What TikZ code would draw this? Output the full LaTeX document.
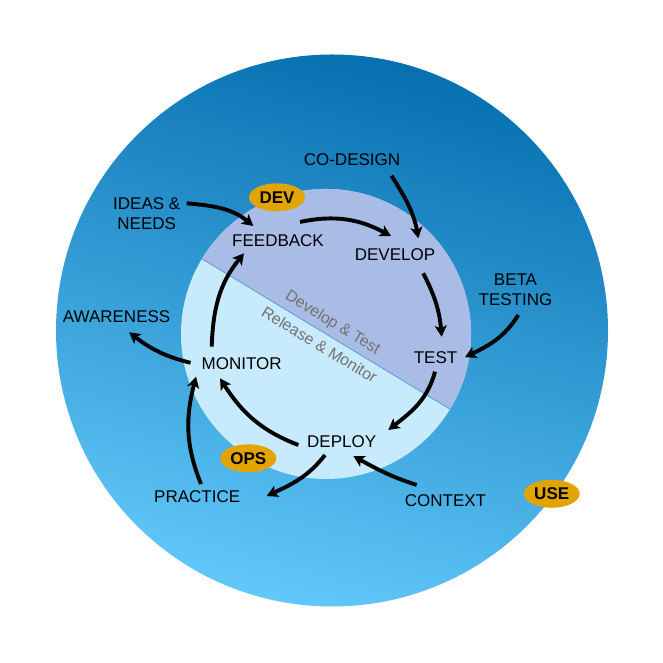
\documentclass[tikz,border=0pt]{standalone}
\usepackage{fontspec}
\setmainfont{Liberation Sans}
\usetikzlibrary{arrows.meta,shapes.geometric}
\definecolor{usedark}{HTML}{0670B0}
\definecolor{uselight}{HTML}{62C8FA}
\definecolor{devfill}{HTML}{A9BCE6}
\definecolor{opsfill}{HTML}{C8EAFD}
\definecolor{splitline}{HTML}{5B9BD5}
\definecolor{badgegold}{HTML}{E2A500}
\definecolor{zonegray}{HTML}{727272}

\tikzset{
  stage/.style={font=\fontsize{17}{20.5}\selectfont, align=center, inner sep=0pt},
  badge/.style={ellipse, fill=badgegold, minimum width=56pt, minimum height=28pt,
                inner sep=0pt, font=\fontsize{17}{20}\selectfont\bfseries},
  flow/.style={line width=3.9pt, -{Stealth[length=11pt,width=12pt,inset=2.5pt]}},
  zone/.style={text=zonegray, font=\fontsize{16}{18}\selectfont, rotate=-31.2, inner sep=0pt}
}

\begin{document}
\begin{tikzpicture}[x=1pt,y=1pt]
\useasboundingbox (0,0) rectangle (663,663);

\coordinate (outer) at (332,332.5);
\coordinate (inner) at (326,329);

\shade[top color=usedark, bottom color=uselight, shading angle=-15] (outer) circle[radius=276];
\fill[opsfill] (inner) circle[radius=145];
\fill[devfill] ([shift={(-31.2:145)}]inner) arc[start angle=-31.2, end angle=148.8, radius=145] -- cycle;
\draw[splitline, line width=0.8pt] ([shift={(-31.2:145)}]inner) -- ([shift={(148.8:145)}]inner);

\node[zone] (devtest) at ([shift={(58.8:12.5)}]inner) {Develop \& Test};
\node[zone] (relmon) at ([shift={(238.8:12.5)}]inner) {Release \& Monitor};

\node[stage] (feedback) at (278,422) {FEEDBACK};
\node[stage] (develop) at (395,408) {DEVELOP};
\node[stage] (test) at (435.5,305.8) {TEST};
\node[stage] (deploy) at (341.7,221.3) {DEPLOY};
\node[stage] (monitor) at (241.7,299.2) {MONITOR};

\node[stage] (codesign) at (352,503.6) {CO-DESIGN};
\node[stage] (ideas) at (146.7,449.3) {IDEAS \&\\NEEDS};
\node[stage] (beta) at (515.5,373.5) {BETA\\TESTING};
\node[stage] (awareness) at (116.6,346.6) {AWARENESS};
\node[stage] (practice) at (197.2,166) {PRACTICE};
\node[stage] (context) at (445.5,162.3) {CONTEXT};

\node[badge] (dev) at (277,465.7) {DEV};
\node[badge] (ops) at (248.3,204.7) {OPS};
\node[badge] (use) at (551.7,169.2) {USE};

\draw[flow] ([shift={(22,19)}]feedback.center) to[out=12,in=152] ([shift={(-4,19)}]develop.center);
\draw[flow] ([shift={(39.5,-16.3)}]codesign.center) to[out=-58,in=100] ([shift={(23.3,16.7)}]develop.center);
\draw[flow] ([shift={(28.3,-18.3)}]develop.center) to[out=-63,in=95] ([shift={(6.2,20.5)}]test.center);
\draw[flow] ([shift={(2.8,-25.5)}]beta.center) to[out=238,in=26] ([shift={(29.5,0)}]test.center);
\draw[flow] ([shift={(-0.5,-14.5)}]test.center) to[out=-105,in=38] ([shift={(46.6,11.7)}]deploy.center);
\draw[flow] ([shift={(-28.8,15.7)}]context.center) to[out=162,in=-29] ([shift={(11.6,-14.3)}]deploy.center);
\draw[flow] ([shift={(-16.7,-13.3)}]deploy.center) to[out=232,in=25] ([shift={(69.5,1)}]practice.center);
\draw[flow] ([shift={(-43.4,-3.3)}]deploy.center) to[out=159,in=-57.5] ([shift={(-21.7,-14.5)}]monitor.center);
\draw[flow] ([shift={(3.8,13)}]practice.center) to[out=112,in=255.6] ([shift={(-45.7,-12.9)}]monitor.center);
\draw[flow] ([shift={(-51.2,1)}]monitor.center) to[out=166,in=-37.5] ([shift={(12.5,-15.9)}]awareness.center);
\draw[flow] ([shift={(-30,17.1)}]monitor.center) to[out=88,in=231] ([shift={(-34,-12.3)}]feedback.center);
\draw[flow] ([shift={(40,10.4)}]ideas.center) to[out=-5,in=140.5] ([shift={(-24.7,15)}]feedback.center);
\end{tikzpicture}
\end{document}
